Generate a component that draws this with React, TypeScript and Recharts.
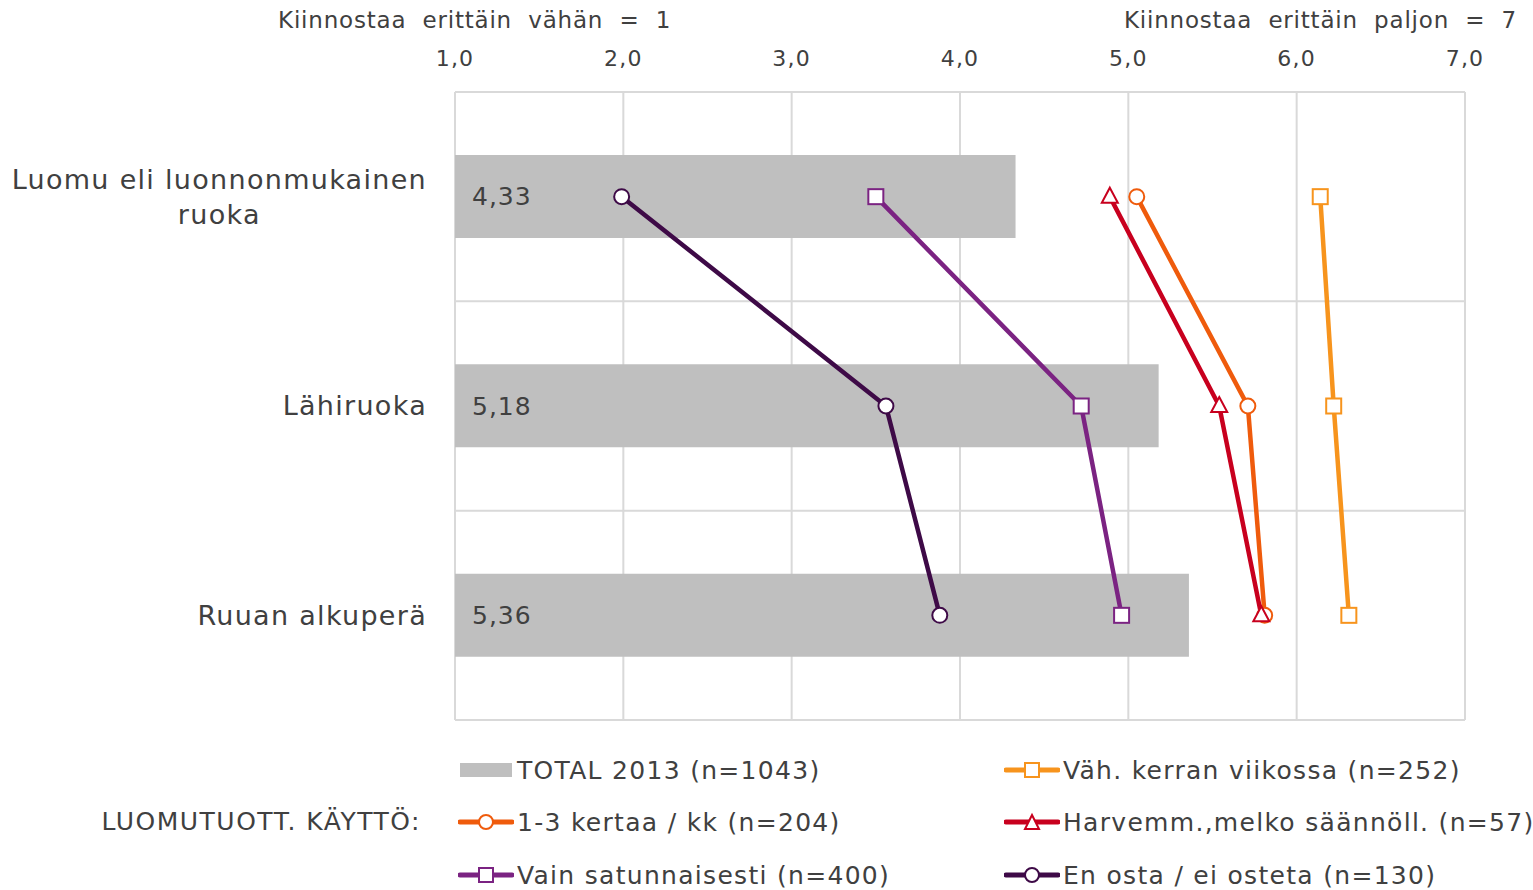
import React from 'react';
import {
  ComposedChart, Bar, Line, XAxis, YAxis, CartesianGrid, LabelList,
} from 'recharts';

const categories = ['Luomu eli luonnonmukainen ruoka', 'Lähiruoka', 'Ruuan alkuperä'];
const categoryLines = [['Luomu eli luonnonmukainen', 'ruoka'], ['Lähiruoka'], ['Ruuan alkuperä']];
const total2013 = [4.33, 5.18, 5.36];
const weekly = [6.14, 6.22, 6.31];
const monthly = [5.05, 5.71, 5.81];
const rarely = [4.89, 5.54, 5.79];
const occasionally = [3.5, 4.72, 4.96];
const never = [1.99, 3.56, 3.88];
const xTicks = [1, 2, 3, 4, 5, 6, 7];

const seriesNames = {
  total: 'TOTAL 2013 (n=1043)',
  weekly: 'Väh. kerran viikossa (n=252)',
  monthly: '1-3 kertaa / kk (n=204)',
  rarely: 'Harvemm.,melko säännöll. (n=57)',
  occasionally: 'Vain satunnaisesti (n=400)',
  never: 'En osta / ei osteta (n=130)',
};

const COLORS = {
  bar: '#BFBFBF',
  weekly: '#F7941D',
  monthly: '#EF5B0C',
  rarely: '#C8001E',
  occasionally: '#7B2382',
  never: '#3E0A47',
  text: '#404040',
  grid: '#D9D9D9',
};

const FONT = '"DejaVu Sans", Verdana, sans-serif';

const data = categories.map((c, i) => ({
  name: c,
  total: total2013[i],
  weekly: weekly[i],
  monthly: monthly[i],
  rarely: rarely[i],
  occasionally: occasionally[i],
  never: never[i],
}));

const fmt = (v: number, d: number) => v.toFixed(d).replace('.', ',');

let measureCtx: CanvasRenderingContext2D | null = null;
function measure(text: string, font: string) {
  if (!measureCtx) {
    const c = document.createElement('canvas');
    measureCtx = c.getContext('2d');
  }
  if (!measureCtx) return text.length * 14;
  measureCtx.font = font;
  return measureCtx.measureText(text).width;
}

const CAT_FONT_SIZE = 27;
const CAT_SPACING = 1.3;

const YTick = (props: any) => {
  const { x, y, payload } = props;
  const idx = categories.indexOf(payload.value);
  const lines = categoryLines[idx] || [payload.value];
  const right = x - 20;
  if (lines.length === 1) {
    return (
      <text x={right} y={y} dy="0.35em" textAnchor="end" fill={COLORS.text}
        fontSize={CAT_FONT_SIZE} fontFamily={FONT} letterSpacing={CAT_SPACING}>{lines[0]}</text>
    );
  }
  const widths = lines.map((l) => measure(l, `${CAT_FONT_SIZE}px "DejaVu Sans"`) + l.length * CAT_SPACING);
  const maxW = Math.max(...widths);
  const cx = right - maxW / 2;
  const lh = 35;
  const start = y - ((lines.length - 1) * lh) / 2;
  return (
    <g>
      {lines.map((l, i) => (
        <text key={i} x={cx} y={start + i * lh} dy="0.35em" textAnchor="middle" fill={COLORS.text}
          fontSize={CAT_FONT_SIZE} fontFamily={FONT} letterSpacing={CAT_SPACING}>{l}</text>
      ))}
    </g>
  );
};

const XTick = (props: any) => {
  const { x, y, payload } = props;
  return (
    <text x={x} y={y} textAnchor="middle" fill={COLORS.text} fontSize={22} fontFamily={FONT} letterSpacing={1.2}>
      {fmt(payload.value, 1)}
    </text>
  );
};

const circleDot = (color: string) => (p: any) => {
  if (p.cx == null || p.cy == null) return <g key={p.key} />;
  return <circle key={p.key} cx={p.cx} cy={p.cy} r={7.5} fill="#fff" stroke={color} strokeWidth={2} />;
};
const squareDot = (color: string) => (p: any) => {
  if (p.cx == null || p.cy == null) return <g key={p.key} />;
  return <rect key={p.key} x={p.cx - 7.5} y={p.cy - 7.5} width={15} height={15} fill="#fff" stroke={color} strokeWidth={2} />;
};
const triangleDot = (color: string) => (p: any) => {
  if (p.cx == null || p.cy == null) return <g key={p.key} />;
  const { cx, cy } = p;
  return (
    <path key={p.key} d={`M${cx},${cy - 9} L${cx + 8},${cy + 6} L${cx - 8},${cy + 6} Z`}
      fill="#fff" stroke={color} strokeWidth={2} />
  );
};

const BarLabel = (props: any) => {
  const { x, y, height, value } = props;
  return (
    <text x={x + 17} y={y + height / 2} dy="0.35em" fill={COLORS.text} fontSize={25} fontFamily={FONT} letterSpacing={1}>
      {fmt(value, 2)}
    </text>
  );
};

type MarkerKind = 'bar' | 'circle' | 'square' | 'triangle';

const LegendMarker = ({ kind, color }: { kind: MarkerKind; color: string }) => (
  <svg width={56} height={20} style={{ display: 'block' }}>
    {kind === 'bar' ? (
      <rect x={2} y={3} width={52} height={14} fill={color} />
    ) : (
      <g>
        <line x1={2} y1={10} x2={54} y2={10} stroke={color} strokeWidth={5} strokeLinecap="round" />
        {kind === 'circle' && <circle cx={28} cy={10} r={7} fill="#fff" stroke={color} strokeWidth={2} />}
        {kind === 'square' && <rect x={21} y={3} width={14} height={14} fill="#fff" stroke={color} strokeWidth={2} />}
        {kind === 'triangle' && (
          <path d="M28,3 L35,17 L21,17 Z" fill="#fff" stroke={color} strokeWidth={2} />
        )}
      </g>
    )}
  </svg>
);

const LegendItem = ({ left, top, kind, color, label }: any) => (
  <div style={{ position: 'absolute', left, top, display: 'flex', alignItems: 'center', height: 30 }}>
    <LegendMarker kind={kind} color={color} />
    <span style={{ marginLeft: 3, fontSize: 25, letterSpacing: 1.3, color: COLORS.text, fontFamily: FONT, whiteSpace: 'nowrap' }}>{label}</span>
  </div>
);

export default function App() {
  return (
    <div style={{ position: 'absolute', left: 0, top: 0, width: 1533, height: 890, background: '#fff', fontFamily: FONT }}>
      <ComposedChart
        width={1533}
        height={890}
        data={data}
        layout="vertical"
        margin={{ top: 52, right: 68, bottom: 170, left: 0 }}
      >
        <CartesianGrid
          stroke={COLORS.grid}
          strokeWidth={2}
          horizontalCoordinatesGenerator={({ offset }: any) =>
            [0, 1, 2, 3].map((i) => offset.top + (i * offset.height) / categories.length)
          }
        />
        <XAxis
          type="number"
          orientation="top"
          domain={[1, 7]}
          ticks={xTicks}
          height={40}
          axisLine={false}
          tickLine={false}
          tickMargin={20}
          tick={<XTick />}
          interval={0}
        />
        <YAxis
          type="category"
          dataKey="name"
          width={455}
          axisLine={false}
          tickLine={false}
          tick={<YTick />}
          interval={0}
        />
        <Bar dataKey="total" fill={COLORS.bar} barSize={83} isAnimationActive={false}>
          <LabelList dataKey="total" content={<BarLabel />} />
        </Bar>
        <Line dataKey="never" stroke={COLORS.never} strokeWidth={4.5} dot={circleDot(COLORS.never)} isAnimationActive={false} />
        <Line dataKey="occasionally" stroke={COLORS.occasionally} strokeWidth={4.5} dot={squareDot(COLORS.occasionally)} isAnimationActive={false} />
        <Line dataKey="monthly" stroke={COLORS.monthly} strokeWidth={4.5} dot={circleDot(COLORS.monthly)} isAnimationActive={false} />
        <Line dataKey="rarely" stroke={COLORS.rarely} strokeWidth={4.5} dot={triangleDot(COLORS.rarely)} isAnimationActive={false} />
        <Line dataKey="weekly" stroke={COLORS.weekly} strokeWidth={4.5} dot={squareDot(COLORS.weekly)} isAnimationActive={false} />
      </ComposedChart>

      <div style={{ position: 'absolute', left: 278, top: 7, fontSize: 23, letterSpacing: 0.8, color: COLORS.text, whiteSpace: 'pre' }}>
        Kiinnostaa  erittäin  vähän  =  1
      </div>
      <div style={{ position: 'absolute', right: 16, top: 7, fontSize: 23, letterSpacing: 0.8, color: COLORS.text, whiteSpace: 'pre' }}>
        Kiinnostaa  erittäin  paljon  =  7
      </div>

      <LegendItem left={458} top={755} kind="bar" color={COLORS.bar} label={seriesNames.total} />
      <LegendItem left={1004} top={755} kind="square" color={COLORS.weekly} label={seriesNames.weekly} />
      <div style={{ position: 'absolute', right: 1533 - 421, top: 807, height: 30, lineHeight: '30px', fontSize: 25, letterSpacing: 1.5, color: COLORS.text, whiteSpace: 'nowrap' }}>
        LUOMUTUOTT. KÄYTTÖ:
      </div>
      <LegendItem left={458} top={807} kind="circle" color={COLORS.monthly} label={seriesNames.monthly} />
      <LegendItem left={1004} top={807} kind="triangle" color={COLORS.rarely} label={seriesNames.rarely} />
      <LegendItem left={458} top={860} kind="square" color={COLORS.occasionally} label={seriesNames.occasionally} />
      <LegendItem left={1004} top={860} kind="circle" color={COLORS.never} label={seriesNames.never} />
    </div>
  );
}
